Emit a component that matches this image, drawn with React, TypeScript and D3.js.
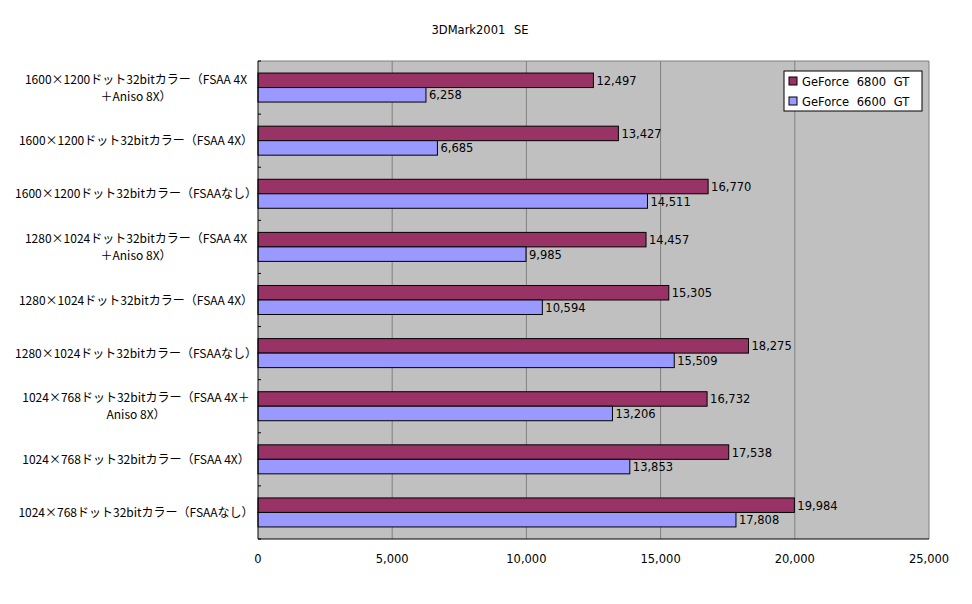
import React from "react";
import * as d3 from "d3";

const title = "3DMark2001 SE";
const categories = [
  "1600×1200ドット32bitカラー（FSAA 4X\n＋Aniso 8X）",
  "1600×1200ドット32bitカラー（FSAA 4X）",
  "1600×1200ドット32bitカラー（FSAAなし）",
  "1280×1024ドット32bitカラー（FSAA 4X\n＋Aniso 8X）",
  "1280×1024ドット32bitカラー（FSAA 4X）",
  "1280×1024ドット32bitカラー（FSAAなし）",
  "1024×768ドット32bitカラー（FSAA 4X＋\nAniso 8X）",
  "1024×768ドット32bitカラー（FSAA 4X）",
  "1024×768ドット32bitカラー（FSAAなし）",
];
const seriesNames = ["GeForce 6800 GT", "GeForce 6600 GT"];
const gf6800 = [12497, 13427, 16770, 14457, 15305, 18275, 16732, 17538, 19984];
const gf6600 = [6258, 6685, 14511, 9985, 10594, 15509, 13206, 13853, 17808];
const xTicks = [0, 5000, 10000, 15000, 20000, 25000];
const colors = ["#993366", "#9999FF"];

const W = 972, H = 604;
const L = 258, R = 929, T = 61, B = 539;
const FONT = "'Noto Sans CJK JP', 'DejaVu Sans', sans-serif";
const NUMFONT = "'DejaVu Sans', sans-serif";

export default function App() {
  const x = d3.scaleLinear().domain([0, 25000]).range([L, R]);
  const y = d3.scaleBand<string>().domain(categories).range([T, B]).paddingInner(0).paddingOuter(0);
  const bw = y.bandwidth();
  const barH = 14.5;
  const fmt = d3.format(",");
  const series = [gf6800, gf6600];

  return (
    <svg width={W} height={H} style={{ position: "absolute", left: 0, top: 0, fontFamily: FONT }}>
      <rect x={0} y={0} width={W} height={H} fill="#fff" />
      <text x={480} y={34} textAnchor="middle" fontSize={11.5} fontFamily={NUMFONT} wordSpacing={5} fill="#000">{title}</text>
      <rect x={L} y={T} width={R - L} height={B - T} fill="#C0C0C0" />
      {xTicks.slice(1, -1).map((t) => (
        <line key={t} x1={x(t)} x2={x(t)} y1={T} y2={B} stroke="#808080" strokeWidth={1} />
      ))}
      <line x1={L} x2={R} y1={T} y2={T} stroke="#808080" />
      <line x1={R} x2={R} y1={T} y2={B} stroke="#808080" />
      {categories.map((c, i) => {
        const yc = (y(c) as number) + bw / 2;
        return (
          <g key={c}>
            {series.map((s, k) => {
              const y0 = yc - barH + k * barH;
              return (
                <g key={k}>
                  <rect x={x(0)} y={y0} width={x(s[i]) - x(0)} height={barH} fill={colors[k]} stroke="#000" strokeWidth={1} />
                  <text x={x(s[i]) + 3} y={y0 + barH / 2 + 4.5} fontSize={11.5} fontFamily={NUMFONT} fill="#000">{fmt(s[i])}</text>
                </g>
              );
            })}
          </g>
        );
      })}
      {categories.map((c, i) => {
        const lines = c.split("\n");
        const yc = (y(c) as number) + bw / 2;
        return (
          <text key={"l" + i} textAnchor="middle" fontSize={12} fill="#000">
            {lines.map((ln, j) => (
              <tspan key={j} x={136} y={yc + 4.5 + (j - (lines.length - 1) / 2) * 17}>{ln}</tspan>
            ))}
          </text>
        );
      })}
      {d3.range(categories.length + 1).map((i) => (
        <line key={"t" + i} x1={L} x2={L + 3} y1={T + i * bw} y2={T + i * bw} stroke="#000" />
      ))}
      <line x1={L} x2={L} y1={T} y2={B} stroke="#000" />
      <line x1={L} x2={R} y1={B} y2={B} stroke="#000" />
      {xTicks.map((t) => (
        <text key={"x" + t} x={x(t)} y={563} textAnchor="middle" fontSize={11.5} fontFamily={NUMFONT} fill="#000">{fmt(t)}</text>
      ))}
      <g>
        <rect x={784} y={71} width={138} height={40} fill="#fff" stroke="#000" />
        {seriesNames.map((n, k) => (
          <g key={n}>
            <rect x={789} y={77 + k * 20} width={8} height={8} fill={colors[k]} stroke="#000" />
            <text x={802} y={86 + k * 20} fontSize={11.5} fontFamily={NUMFONT} wordSpacing={4} fill="#000">{n}</text>
          </g>
        ))}
      </g>
    </svg>
  );
}
